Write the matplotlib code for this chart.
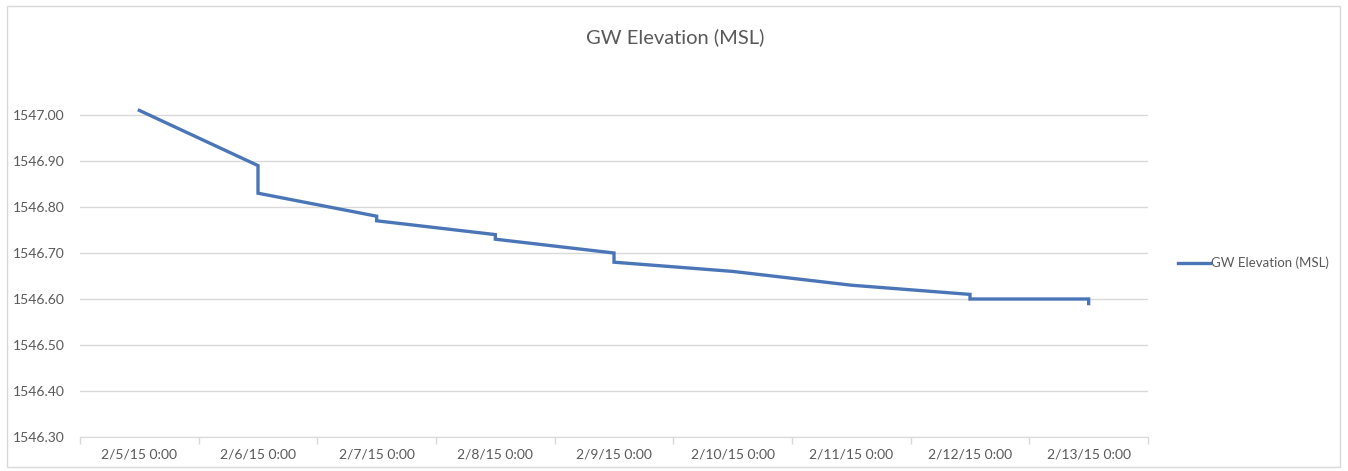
import matplotlib
matplotlib.use('Agg')
import matplotlib.pyplot as plt
from matplotlib.patches import Rectangle

# days since 2/5/15 0:00 and elevation
days = [0, 1, 1, 2, 2, 3, 3, 4, 4, 5, 6, 7, 7, 8, 8]
elev = [1547.01, 1546.89, 1546.83, 1546.78, 1546.77, 1546.74, 1546.73,
        1546.70, 1546.68, 1546.66, 1546.63, 1546.61, 1546.60, 1546.60, 1546.59]
date_labels = ['2/5/15 0:00', '2/6/15 0:00', '2/7/15 0:00', '2/8/15 0:00', '2/9/15 0:00',
               '2/10/15 0:00', '2/11/15 0:00', '2/12/15 0:00', '2/13/15 0:00']
yticks = [1546.30, 1546.40, 1546.50, 1546.60, 1546.70, 1546.80, 1546.90, 1547.00]

plt.rcParams['font.family'] = ['Lato', 'DejaVu Sans']
txt = '#595959'
grid = '#d9d9d9'

W, H = 1348, 471
fig = plt.figure(figsize=(W/100, H/100), dpi=100)
ax = fig.add_axes([80/W, 1-437/H, (1148-80)/W, (437-69)/H])

ax.plot(days, elev, color='#4a76b8', lw=2.4, label='GW Elevation (MSL)', solid_joinstyle='miter')

ax.set_xlim(-0.5, len(date_labels)-0.5)
ax.set_ylim(1546.30, 1547.10)
ax.set_yticks(yticks)
ax.set_yticklabels(['%.2f' % v for v in yticks])
ax.set_xticks(range(len(date_labels)))
ax.set_xticklabels(date_labels)
ax.set_xticks([i-0.5 for i in range(len(date_labels)+1)], minor=True)

ax.grid(axis='y', color=grid, lw=1)
ax.set_axisbelow(True)
for s in ['top', 'right', 'left']:
    ax.spines[s].set_visible(False)
ax.spines['bottom'].set_color(grid)
ax.tick_params(axis='y', length=0, labelsize=10, labelcolor=txt, pad=11)
ax.tick_params(axis='x', which='major', length=0, labelsize=10, labelcolor=txt, pad=8)
ax.tick_params(axis='x', which='minor', length=5, color=grid, width=1)

fig.text(675/W, 1-37/H, 'GW Elevation (MSL)', ha='center', va='center', fontsize=14.5, color=txt)

fig.legend(loc='center left', bbox_to_anchor=(1166/W, 1-263/H), frameon=False,
           handlelength=2.4, handletextpad=0.1, fontsize=9.5, labelcolor=txt)

fig.patches.append(Rectangle((7/W, 4/H), (1340-7)/W, (465-4)/H, transform=fig.transFigure,
                             fill=False, edgecolor=grid, lw=1))

plt.savefig('out.png', dpi=100)
plt.close()
